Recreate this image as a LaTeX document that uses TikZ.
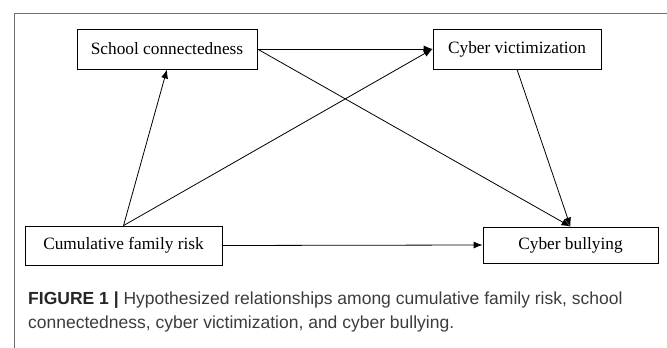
\documentclass[tikz,border=0pt]{standalone}
\usepackage{fontspec}
\setmainfont{Liberation Serif}
\newfontfamily\capfont{Liberation Sans}
\usetikzlibrary{arrows.meta}
\definecolor{framegray}{HTML}{6E6E6E}
\definecolor{capgray}{HTML}{3C3C3C}

\begin{document}
\begin{tikzpicture}[x=1pt,y=-1pt,
   box/.style={draw,line width=0.8pt,inner sep=0pt,font=\fontsize{17.3}{20}\selectfont},
   path/.style={line width=0.8pt,-{Latex[length=9pt,width=7pt]}}]
\useasboundingbox (0,0) rectangle (667,348);
% frame
\draw[framegray,line width=1pt] (14,348) -- (14,13) -- (667,13);
% variables
\node[box,minimum width=180pt,minimum height=40pt] (school) at (167,49) {School connectedness};
\node[box,minimum width=168pt,minimum height=40pt] (cyvic) at (517,49) {Cyber victimization};
\node[box,minimum width=197pt,minimum height=39pt] (cumrisk) at (123.5,245.5) {Cumulative family risk};
\node[box,minimum width=175pt,minimum height=36pt] (cybull) at (570.5,245) {Cyber bullying};
% paths
\draw[path] (cumrisk.north) -- (school.south);
\draw[path] (cumrisk.north) -- (cyvic.west);
\draw[path] (school.east) -- (cyvic.west);
\draw[path] (school.east) -- (cybull.north);
\draw[path] (cyvic.south) -- (cybull.north);
\draw[path] (cumrisk.east) -- (cybull.west);
% caption (anchored at the baseline of its last line)
\node[anchor=base west,align=left,inner sep=0pt,text=capgray,
      font=\capfont\fontsize{17.5}{24}\selectfont] (caption) at (28,328)
  {{\bfseries\color{black!85}FIGURE 1 |} Hypothesized relationships among cumulative family risk, school\\
   connectedness, cyber victimization, and cyber bullying.};
\end{tikzpicture}
\end{document}
